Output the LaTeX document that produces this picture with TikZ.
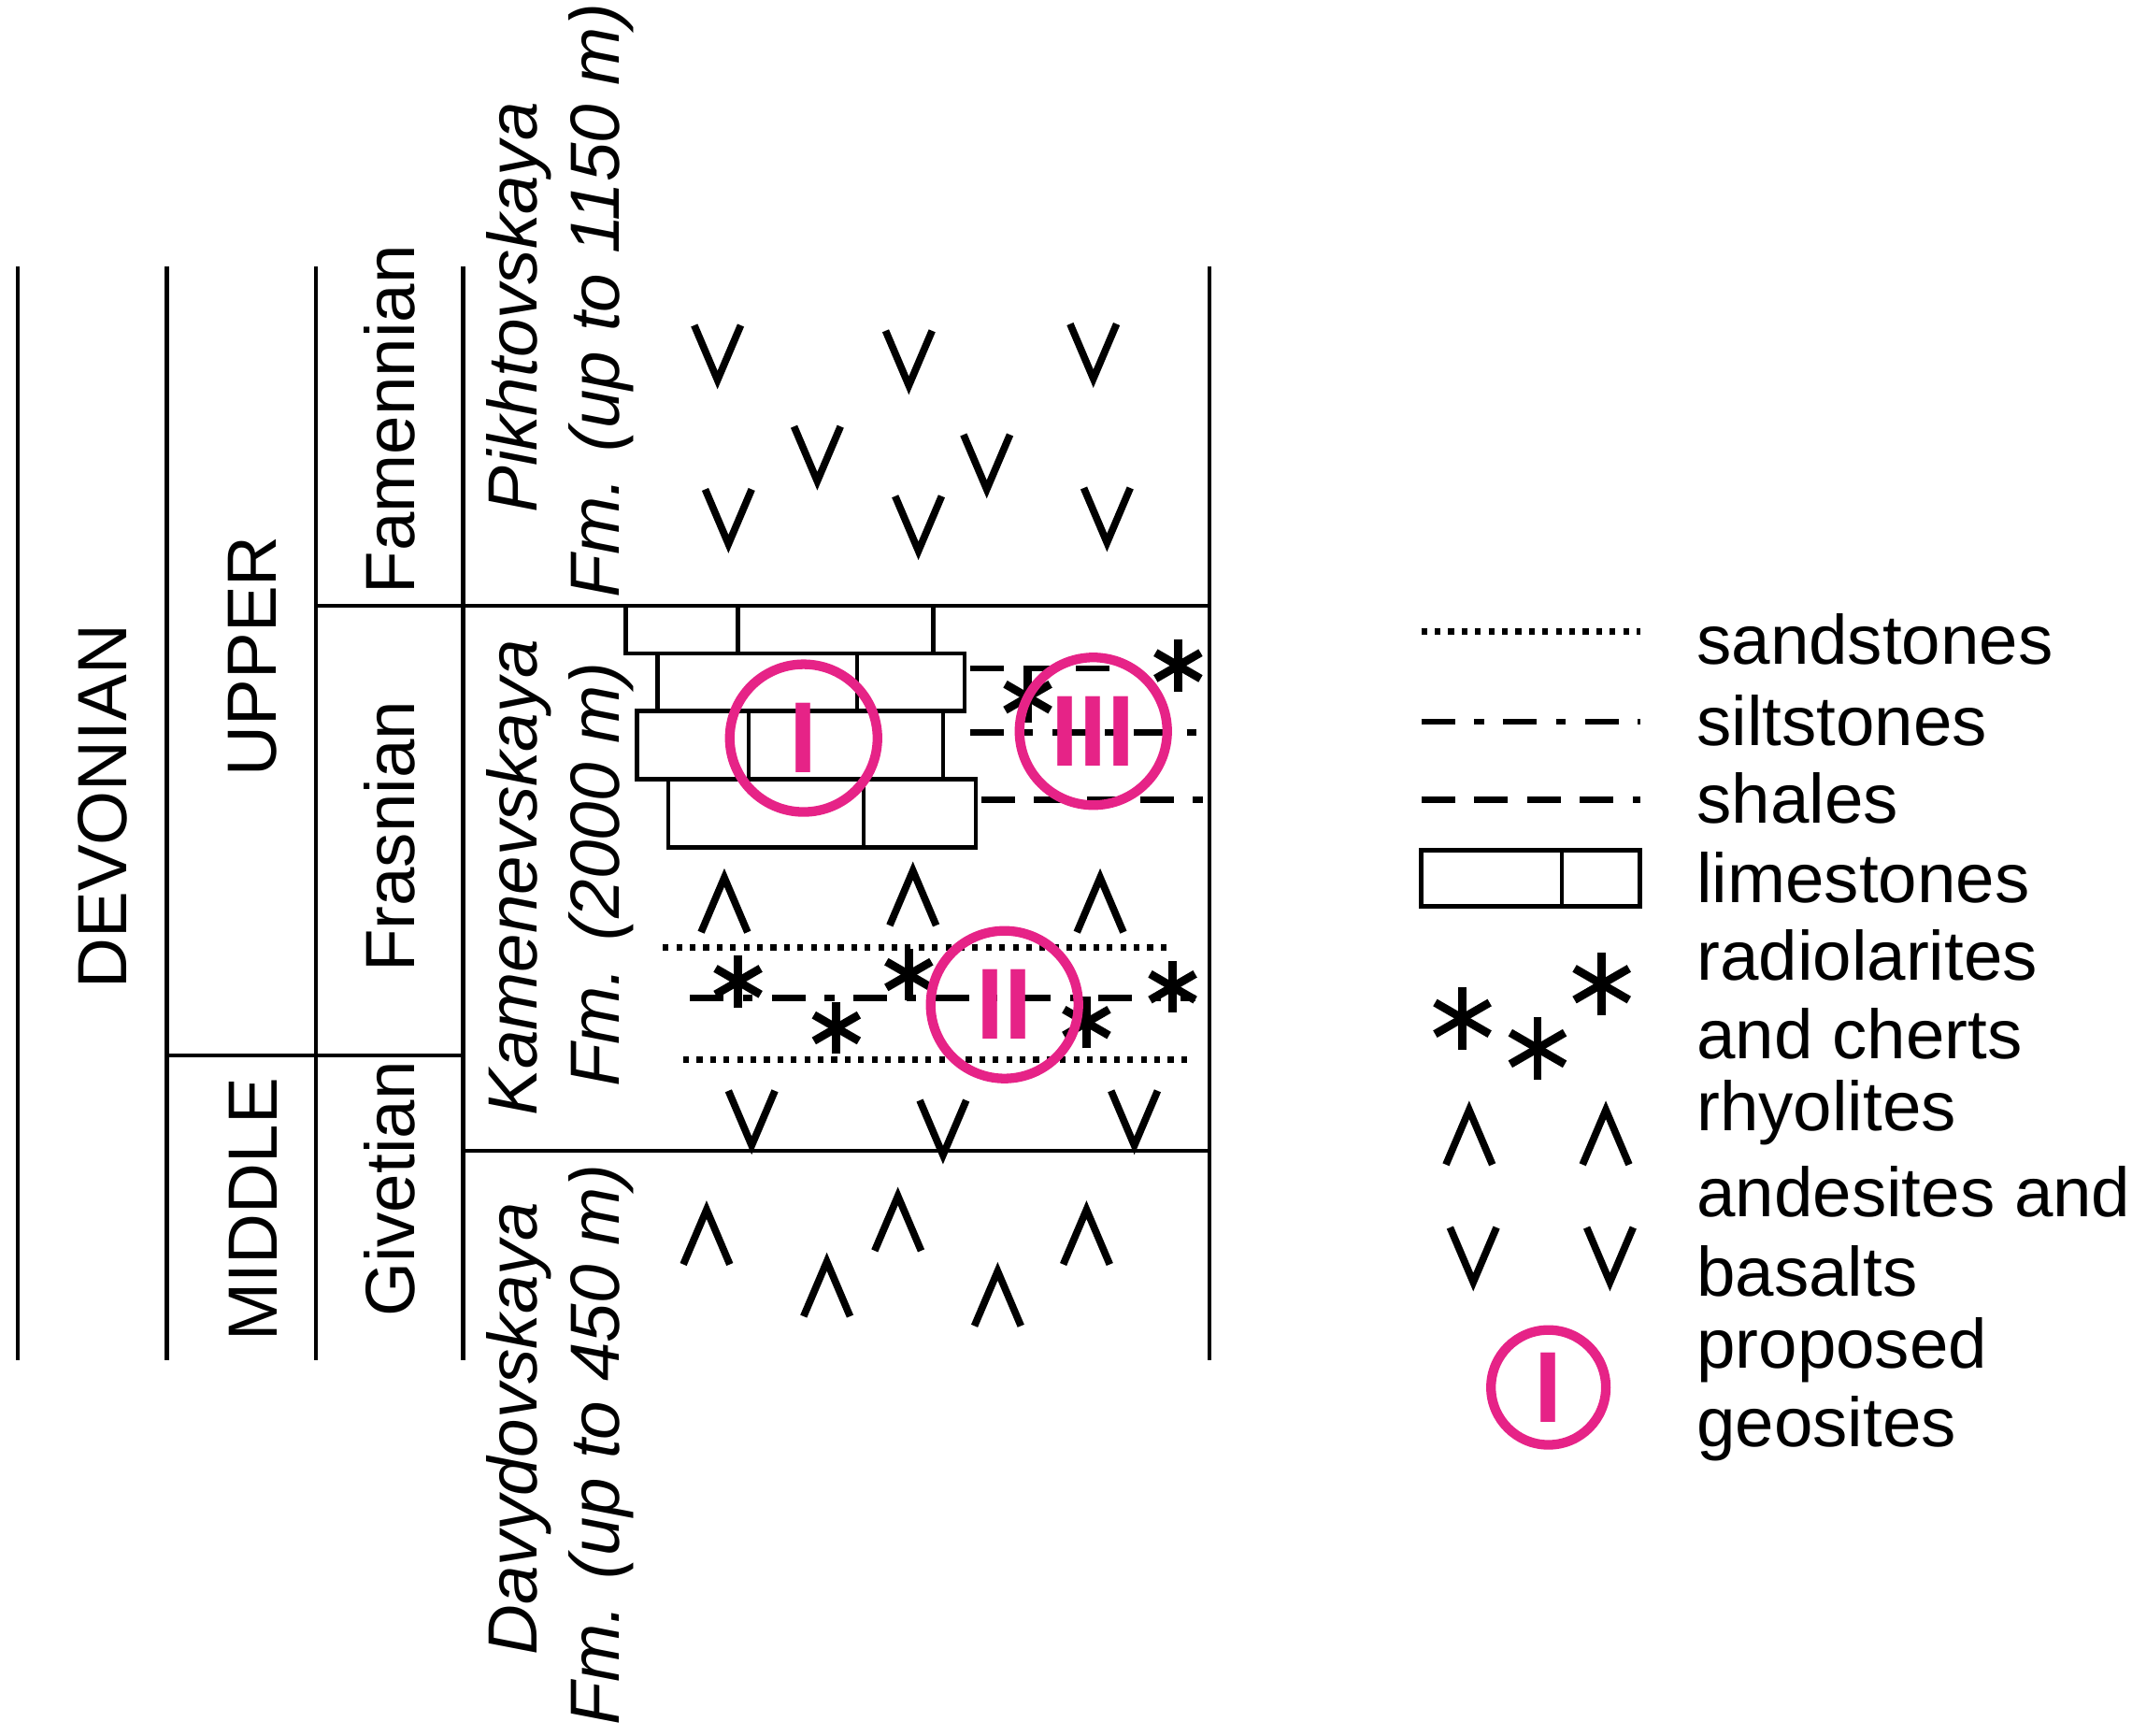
\documentclass[tikz,border=0pt]{standalone}
\usepackage{fontspec}
\setmainfont{Liberation Sans}
\usetikzlibrary{calc}
\begin{document}
\begin{tikzpicture}[x=0.01cm,y=-0.01cm,line width=0.85pt,
  lbl/.style={font=\fontsize{14.5}{16}\selectfont,inner sep=0},
  rot/.style={lbl,rotate=90},
  fm/.style={rot,font=\fontsize{14.5}{16}\selectfont\itshape},
  geo/.style={draw=mag,line width=2pt,circle,minimum size=1.08cm,inner sep=0,text=mag,font=\fontsize{21}{21}\selectfont\bfseries},
  dots/.style={dash pattern=on 1.2pt off 1.6pt,line width=1.3pt},
  dd/.style={dash pattern=on 7pt off 4pt on 2pt off 4pt,line width=1.3pt},
  sh/.style={dash pattern=on 7pt off 4pt,line width=1.3pt}]
\definecolor{mag}{RGB}{230,35,135}
\useasboundingbox (0,0) rectangle (1560,1270);
\newcommand{\vv}[2]{\draw[line width=1.5pt] (#1-17,#2-20) -- (#1,#2+20) -- (#1+17,#2-20);}
\newcommand{\ww}[2]{\draw[line width=1.5pt] (#1-17,#2+20) -- (#1,#2-20) -- (#1+17,#2+20);}
\newcommand{\aster}[3]{\foreach \a in {90,30,-30} \draw[line width=1.7pt] ($(#1,#2)+(\a:#3)$) -- ($(#1,#2)+(\a+180:#3)$);}
% frame
\foreach \x in {13,122,231,339,885} \draw (\x,195) -- (\x,995);
\draw (231,443) -- (885,443);
\draw (122,772) -- (339,772);
\draw (339,842) -- (885,842);
% labels
\node[rot] (dev) at (75,590) {DEVONIAN};
\node[rot] (up) at (185,480) {UPPER};
\node[rot] (mid) at (185,885) {MIDDLE};
\node[rot] (fam) at (285,307) {Famennian};
\node[rot] (fra) at (285,612) {Frasnian};
\node[rot] (giv) at (285,870) {Givetian};
\node[fm] (p1) at (380,225) {Pikhtovskaya};
\node[fm] (p2) at (440,220) {Fm. (up to 1150 m)};
\node[fm] (k1) at (380,642) {Kamenevskaya};
\node[fm] (k2) at (440,640) {Fm. (2000 m)};
\node[fm] (d1) at (380,1045) {Davydovskaya};
\node[fm] (d2) at (440,1057) {Fm. (up to 450 m)};
% volcanics
\vv{525}{258}\vv{665}{262}\vv{800}{257}\vv{598}{332}\vv{722}{338}\vv{533}{378}\vv{672}{383}\vv{810}{377}
\vv{550}{818}\vv{690}{825}\vv{830}{818}
\ww{530}{662}\ww{668}{657}\ww{805}{662}
\ww{517}{905}\ww{605}{943}\ww{657}{895}\ww{730}{950}\ww{795}{905}
% limestones
\draw (458,443) rectangle (683,478); \draw (540,443)--(540,478);
\draw (481,478) rectangle (706,520); \draw (627,478)--(627,520);
\draw (466,520) rectangle (690,570); \draw (548,520)--(548,570);
\draw (489,570) rectangle (714,620); \draw (632,570)--(632,620);
% right layers
\draw[sh] (710,489) -- (830,489);
\draw[dd] (710,536) -- (880,536);
\draw[sh] (718,585) -- (880,585);
\aster{862}{487}{19}\aster{752}{510}{19}
% lower
\draw[dots] (485,693) -- (855,693);
\draw[dd] (505,730) -- (875,730);
\draw[dots] (500,775) -- (870,775);
\aster{540}{718}{19}\aster{612}{752}{19}\aster{665}{713}{19}\aster{795}{748}{19}\aster{858}{722}{19}
% geosites
\node[geo] (g1) at (588,540) {I};
\node[geo] (g3) at (800,535) {III};
\node[geo] (g2) at (735,735) {II};
% legend
\draw[dots] (1040,462) -- (1200,462);
\draw[dd] (1040,528) -- (1200,528);
\draw[sh] (1040,585) -- (1200,585);
\draw (1040,622) rectangle (1200,663); \draw (1143,622)--(1143,663);
\aster{1070}{745}{23}\aster{1125}{767}{23}\aster{1172}{720}{23}
\ww{1075}{832}\ww{1175}{832}
\vv{1078}{918}\vv{1178}{918}
\node[geo,minimum size=0.84cm] (gl) at (1133,1015) {I};
\foreach \t/\y in {sandstones/468,siltstones/527,shales/584,limestones/642,radiolarites/699,and cherts/756,rhyolites/814,andesites and/872,basalts/930,proposed/988,geosites/1045}
  \node[lbl,anchor=west] at (1240,\y) {\t};
\end{tikzpicture}
\end{document}
